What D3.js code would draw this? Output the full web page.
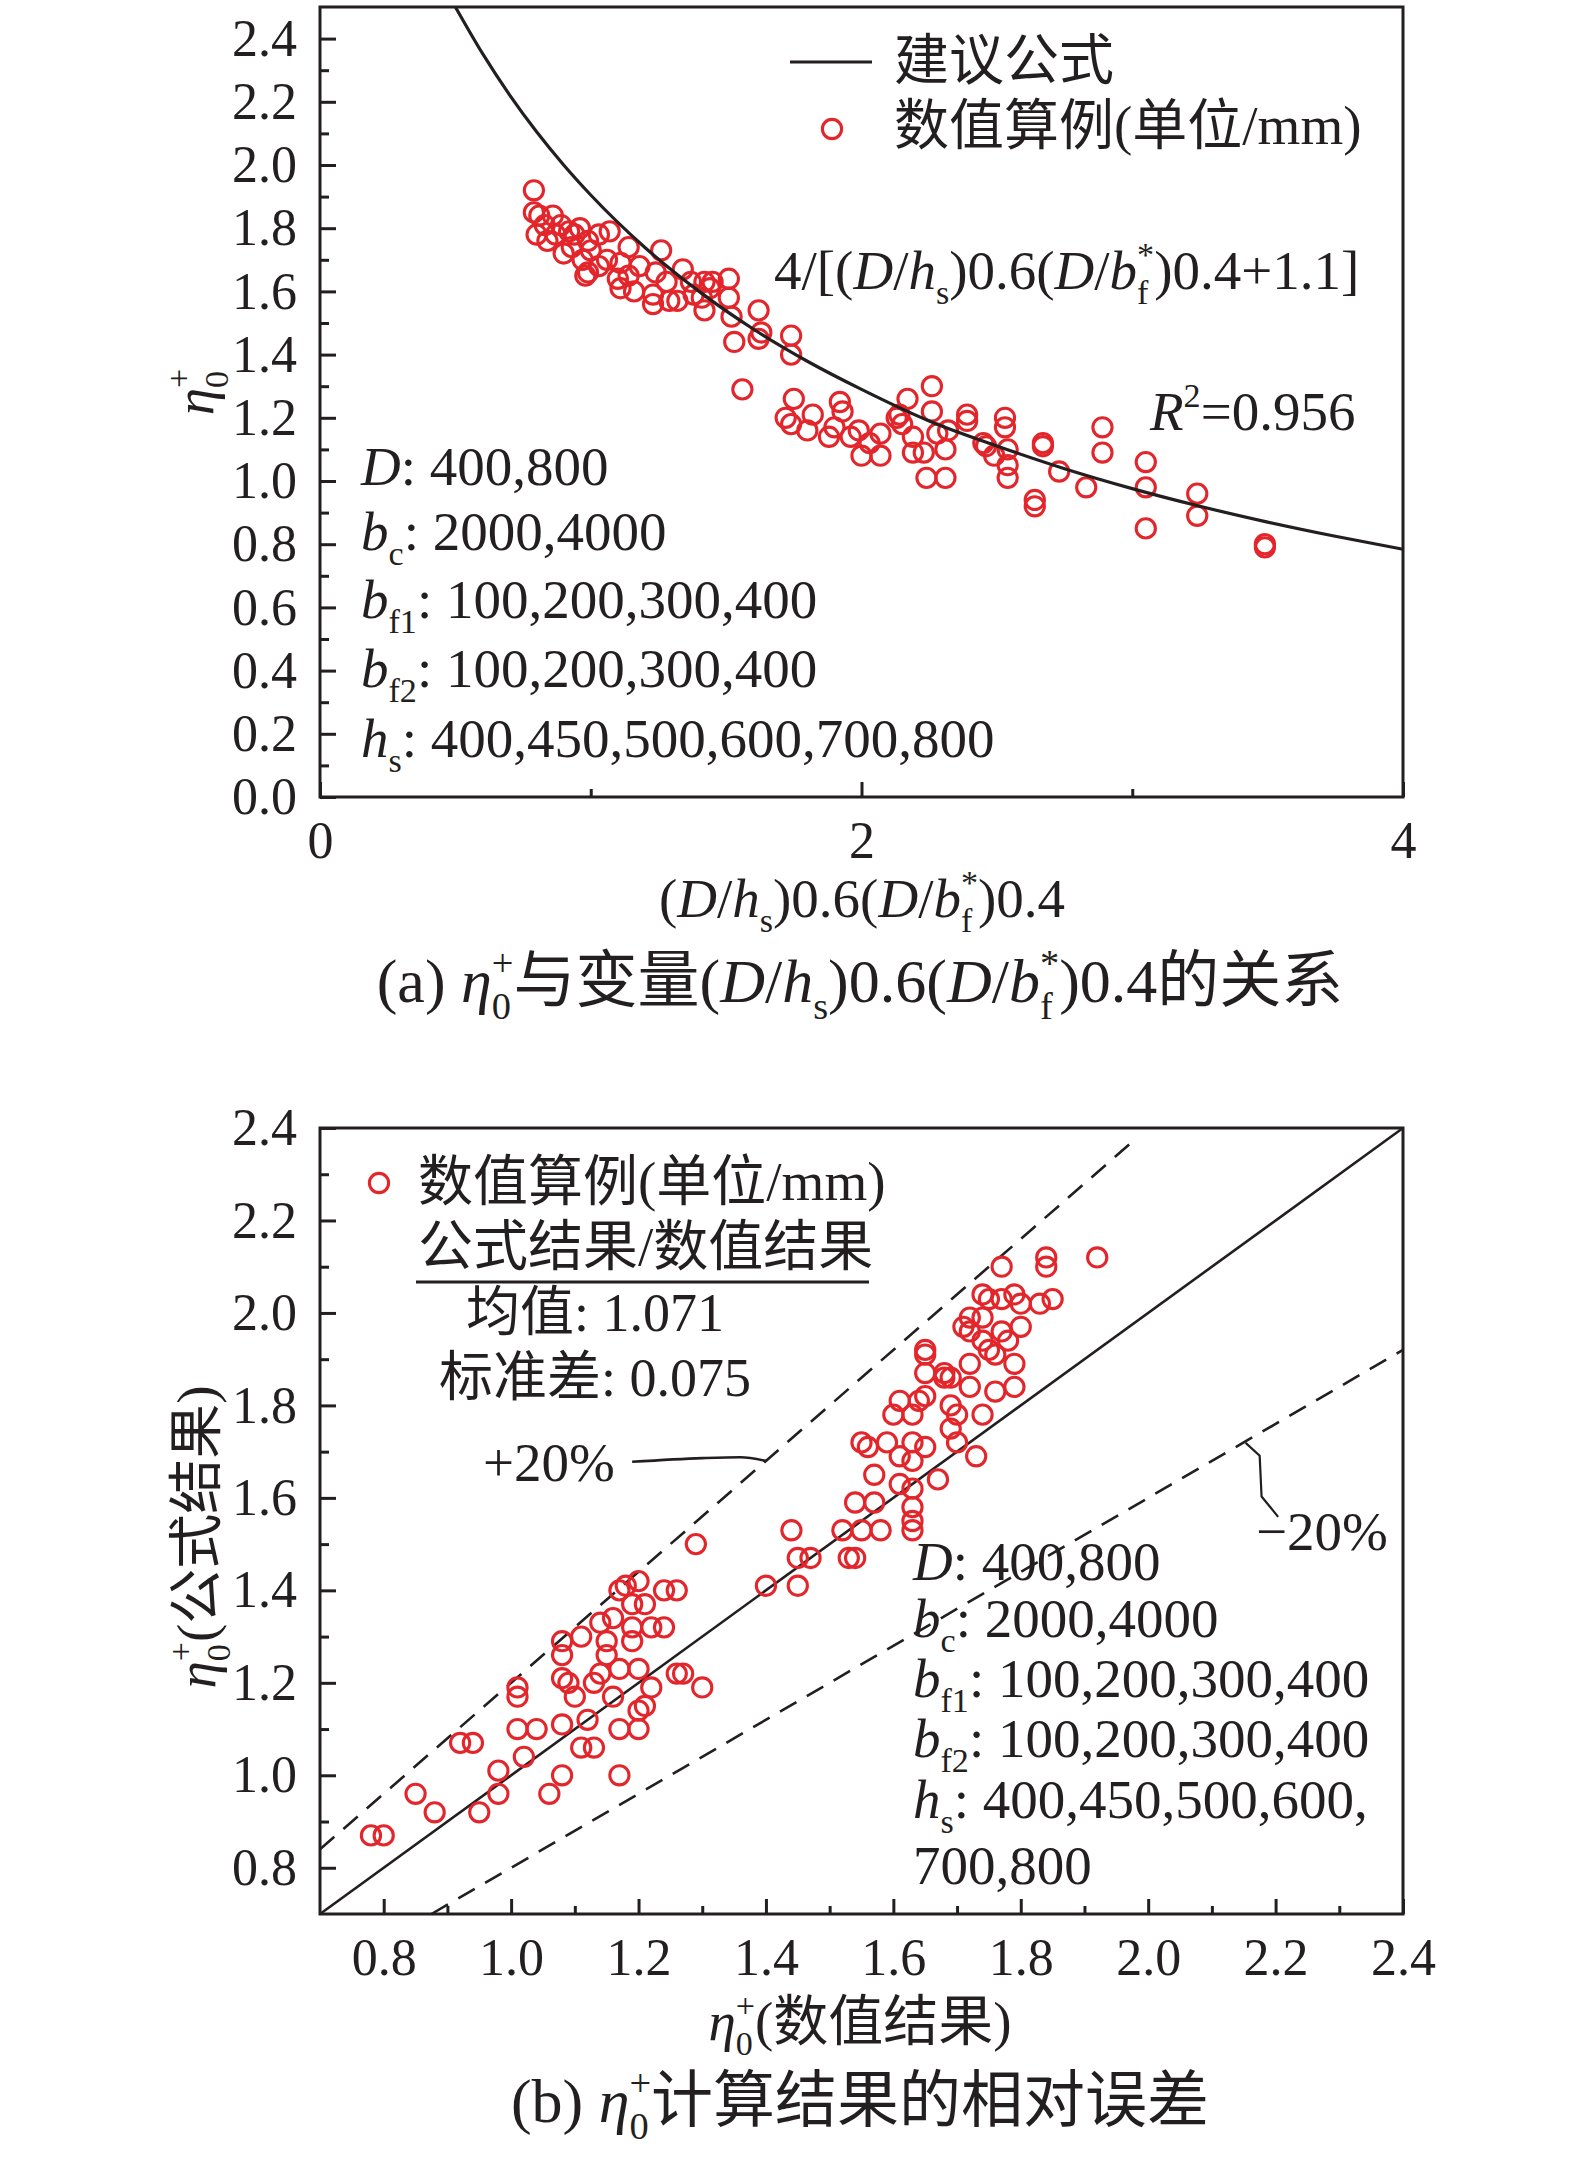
<!DOCTYPE html>
<html><head><meta charset="utf-8">
<script src="https://cdn.jsdelivr.net/npm/d3@7"></script>
<style>body{margin:0;background:#fff;} svg{display:block;background:#fff;}</style>
</head><body>
<svg id="c" width="1575" height="2162"></svg>
<script>
// ---------------- DATA ----------------
// (a) proposed formula curve 4/[x+1.1], read at these x positions
const curveX = [0.5,0.6,0.7,0.8,0.9,1.0,1.2,1.4,1.6,1.8,2.0,2.25,2.5,2.75,3.0,3.25,3.5,3.75,4.0];
const curveY = [2.5,2.353,2.222,2.105,2.0,1.905,1.739,1.6,1.481,1.379,1.290,1.190,1.111,1.039,0.976,0.920,0.870,0.825,0.784];
// (a) numerical examples
const aX = [0.79,0.79,0.80,0.81,0.86,0.87,0.89,0.90,0.94,0.96,
0.99,0.99,1.03,1.03,1.07,1.06,1.11,1.14,1.14,1.18,
1.23,1.23,1.24,1.26,1.32,1.34,1.37,1.42,1.42,1.41,
1.51,1.51,1.52,1.53,1.62,1.63,1.62,1.74,1.74,1.56,
1.72,1.75,1.74,1.82,1.88,1.92,1.93,1.96,1.99,2.00,
2.07,2.07,2.13,2.17,2.19,2.14,2.15,2.19,2.23,2.26,
2.26,2.24,2.31,2.31,2.32,2.28,2.39,2.39,2.45,2.46,
2.49,2.53,2.53,2.54,2.54,2.54,2.67,2.67,2.64,2.64,
2.73,2.83,2.89,2.89,3.05,3.05,3.05,3.24,3.24,3.49,
3.49,0.83,0.84,0.92,0.93,0.97,1.00,0.98,1.10,1.16,
1.28,1.29,1.38,1.11,1.45,1.44,1.80,1.90,2.03];
const aY = [1.92,1.85,1.78,1.84,1.84,1.78,1.81,1.72,1.78,1.80,
1.76,1.66,1.68,1.78,1.79,1.70,1.61,1.74,1.65,1.68,
1.59,1.56,1.66,1.73,1.57,1.67,1.63,1.63,1.54,1.58,
1.64,1.58,1.52,1.44,1.54,1.47,1.45,1.46,1.40,1.29,
1.20,1.26,1.18,1.21,1.14,1.25,1.22,1.14,1.16,1.08,
1.15,1.08,1.20,1.26,1.09,1.21,1.18,1.14,1.09,1.30,
1.22,1.01,1.01,1.10,1.16,1.15,1.21,1.19,1.12,1.11,
1.08,1.20,1.17,1.10,1.05,1.01,1.12,1.11,0.94,0.92,
1.03,0.98,1.17,1.09,1.06,0.98,0.85,0.96,0.89,0.80,
0.79,1.81,1.76,1.79,1.74,1.70,1.73,1.65,1.64,1.60,
1.63,1.57,1.59,1.69,1.63,1.61,1.16,1.17,1.12];
// (b) numerical result (x) vs formula result (y)
const bX = [0.78,0.80,0.85,0.88,0.95,0.92,0.94,0.98,0.98,1.02,
1.01,1.04,1.06,1.08,1.01,1.01,1.08,1.08,1.08,1.09,
1.08,1.10,1.11,1.11,1.13,1.12,1.13,1.14,1.16,1.14,
1.15,1.15,1.16,1.17,1.18,1.19,1.21,1.19,1.20,1.22,
1.24,1.24,1.26,1.17,1.20,1.20,1.21,1.22,1.20,1.17,
1.17,1.26,1.27,1.30,1.29,1.19,1.40,1.44,1.45,1.47,
1.45,1.52,1.53,1.54,1.55,1.58,1.54,1.57,1.57,1.55,
1.56,1.59,1.61,1.61,1.63,1.63,1.63,1.63,1.63,1.63,
1.65,1.67,1.61,1.60,1.63,1.64,1.65,1.69,1.69,1.70,
1.70,1.73,1.74,1.65,1.65,1.65,1.68,1.68,1.69,1.72,
1.72,1.72,1.71,1.72,1.74,1.74,1.75,1.76,1.76,1.77,
1.78,1.79,1.79,1.80,1.74,1.75,1.77,1.79,1.80,1.83,
1.85,1.77,1.84,1.84,1.92];
const bY = [0.87,0.87,0.96,0.92,0.92,1.07,1.07,1.01,0.96,1.04,
1.10,1.10,0.96,1.00,1.19,1.17,1.29,1.26,1.21,1.20,
1.11,1.17,1.30,1.06,1.06,1.12,1.20,1.33,1.34,1.22,
1.29,1.26,1.17,1.40,1.41,1.37,1.37,1.32,1.42,1.32,
1.32,1.40,1.40,1.23,1.23,1.14,1.15,1.19,1.10,1.10,
1.00,1.22,1.22,1.19,1.50,1.29,1.41,1.53,1.47,1.47,
1.41,1.53,1.47,1.47,1.53,1.53,1.59,1.59,1.65,1.72,
1.71,1.72,1.69,1.63,1.62,1.58,1.55,1.53,1.72,1.68,
1.71,1.64,1.81,1.78,1.78,1.81,1.82,1.80,1.75,1.78,
1.72,1.69,1.78,1.92,1.91,1.87,1.87,1.86,1.86,1.89,
1.84,1.99,1.97,1.96,1.94,1.99,1.92,1.91,1.83,1.96,
1.94,1.89,1.84,1.97,2.04,2.03,2.03,2.04,2.02,2.02,
2.03,2.10,2.12,2.10,2.12];
// (b) reference lines: 1:1, +20%, -20%
const lineEqual = [[0.7,0.7],[2.4,2.4]];
const linePlus20 = [[0.7,0.84],[1.98,2.376]];
const lineMinus20 = [[0.875,0.7],[2.4,1.92]];
const leaderPlus = [[1.19,1.678],[1.30,1.686],[1.36,1.688],[1.40,1.680]];
const leaderMinus = [[2.153,1.719],[2.175,1.691],[2.178,1.603],[2.204,1.559]];
// ticks
const aYTicks = [0,0.2,0.4,0.6,0.8,1.0,1.2,1.4,1.6,1.8,2.0,2.2,2.4];
const aYMinor = [0.1,0.3,0.5,0.7,0.9,1.1,1.3,1.5,1.7,1.9,2.1,2.3];
const aXTicks = [0,2,4];
const aXMinor = [1,3];
const bTicks = [0.8,1.0,1.2,1.4,1.6,1.8,2.0,2.2,2.4];
const bMinor = [0.9,1.1,1.3,1.5,1.7,1.9,2.1,2.3];

// ---------------- STYLE ----------------
const FONT = "'Liberation Serif','Noto Sans CJK SC',serif";
const INK = '#231f20';
const RED = '#e3262b';
const TICK_FS = 52, TXT_FS = 55, CAP_FS = 62;
const R = 9.6, SW = 3.1;

const svg = d3.select('#c');

function rich(parent, x, y, segs, opts) {
  const fs = opts.size || TXT_FS;
  const t = parent.append('text').attr('x', x).attr('y', y)
    .attr('font-family', FONT).attr('font-size', fs).attr('fill', INK)
    .attr('text-anchor', opts.anchor || 'start');
  if (opts.rotate) t.attr('transform', `rotate(${opts.rotate},${x},${y})`);
  let cur = 0, lastNode = null;
  for (const [txt, st] of segs) {
    const ts = t.append('tspan').text(txt);
    let target = 0, size = fs;
    if (st === 'sub' || st === 'isub') { target = 0.28 * fs; size = 0.62 * fs; }
    if (st === 'sup' || st === 'stk') { target = -0.42 * fs; size = 0.62 * fs; }
    if (st === 'i' || st === 'isub') ts.attr('font-style', 'italic');
    ts.attr('font-size', size);
    if (target !== cur) ts.attr('dy', target - cur);
    if (st === 'stk' && lastNode) ts.attr('dx', -lastNode.getComputedTextLength());
    cur = target; lastNode = ts.node();
  }
  return t;
}
const ETA = [['η', 'i'], ['0', 'sub'], ['+', 'stk']];

function styleAxis(g) {
  g.select('.domain').remove();
  g.selectAll('line').attr('stroke', INK).attr('stroke-width', 3);
  g.selectAll('text').attr('font-family', FONT).attr('font-size', TICK_FS).attr('fill', INK);
}

function panel(x, y, o) {
  const g = svg.append('g');
  const h = y.range()[0];
  g.append('g').attr('transform', `translate(${x.range()[0]},0)`)
    .call(d3.axisLeft(y).tickValues(o.yTicks).tickSize(-16).tickPadding(23).tickFormat(d3.format('.1f'))).call(styleAxis);
  g.append('g').attr('transform', `translate(${x.range()[0]},0)`)
    .call(d3.axisLeft(y).tickValues(o.yMinor).tickSize(-9).tickFormat('')).call(styleAxis);
  g.append('g').attr('transform', `translate(0,${h})`)
    .call(d3.axisBottom(x).tickValues(o.xTicks).tickSize(-15).tickPadding(24).tickFormat(o.xFmt)).call(styleAxis);
  g.append('g').attr('transform', `translate(0,${h})`)
    .call(d3.axisBottom(x).tickValues(o.xMinor).tickSize(-8).tickFormat('')).call(styleAxis);
  g.append('rect').attr('x', x.range()[0]).attr('y', y.range()[1])
    .attr('width', x.range()[1] - x.range()[0]).attr('height', y.range()[0] - y.range()[1])
    .attr('fill', 'none').attr('stroke', INK).attr('stroke-width', 3);
  return g;
}

function dots(g, x, y, xs, ys) {
  g.append('g').selectAll('circle').data(d3.zip(xs, ys)).join('circle')
    .attr('cx', d => x(d[0])).attr('cy', d => y(d[1])).attr('r', R)
    .attr('fill', 'none').attr('stroke', RED).attr('stroke-width', SW);
}

// ================= PANEL (a) =================
const xA = d3.scaleLinear().domain([0, 4]).range([320, 1403]);
const yA = d3.scaleLinear().domain([0, 2.5]).range([797, 7]);
const gA = panel(xA, yA, {yTicks: aYTicks, yMinor: aYMinor, xTicks: aXTicks, xMinor: aXMinor, xFmt: d3.format('d')});

dots(gA, xA, yA, aX, aY);
gA.append('path').datum(d3.zip(curveX, curveY))
  .attr('d', d3.line().x(d => xA(d[0])).y(d => yA(d[1])).curve(d3.curveMonotoneX))
  .attr('fill', 'none').attr('stroke', INK).attr('stroke-width', 3.2);

// legend (a)
gA.append('line').attr('x1', 790).attr('x2', 872).attr('y1', 62).attr('y2', 62).attr('stroke', INK).attr('stroke-width', 3);
rich(gA, 894, 79, [['建议公式', 'n']], {});
gA.append('circle').attr('cx', 832).attr('cy', 129).attr('r', R).attr('fill', 'none').attr('stroke', RED).attr('stroke-width', SW);
rich(gA, 894, 144, [['数值算例(单位/mm)', 'n']], {});

// formula & R2
rich(gA, 774, 289, [['4/[(', 'n'], ['D', 'i'], ['/', 'n'], ['h', 'i'], ['s', 'sub'], [')0.6(', 'n'], ['D', 'i'], ['/', 'n'], ['b', 'i'], ['f', 'sub'], ['*', 'stk'], [')0.4+1.1]', 'n']], {});
rich(gA, 1150, 430, [['R', 'i'], ['2', 'sup'], ['=0.956', 'n']], {});

// parameter block (a)
const paramA = [
  [['D', 'i'], [': 400,800', 'n']],
  [['b', 'i'], ['c', 'sub'], [': 2000,4000', 'n']],
  [['b', 'i'], ['f1', 'sub'], [': 100,200,300,400', 'n']],
  [['b', 'i'], ['f2', 'sub'], [': 100,200,300,400', 'n']],
  [['h', 'i'], ['s', 'sub'], [': 400,450,500,600,700,800', 'n']]
];
const paramAY = [485, 550, 618, 687, 757];
paramA.forEach((s, i) => rich(gA, 361, paramAY[i], s, {}));

// axis titles (a)
rich(gA, 213, 392, ETA, {anchor: 'middle', rotate: -90});
rich(gA, 862, 917, [['(', 'n'], ['D', 'i'], ['/', 'n'], ['h', 'i'], ['s', 'sub'], [')0.6(', 'n'], ['D', 'i'], ['/', 'n'], ['b', 'i'], ['f', 'sub'], ['*', 'stk'], [')0.4', 'n']], {anchor: 'middle'});
rich(gA, 860, 1002, [['(a) ', 'n'], ...ETA, ['与变量(', 'n'], ['D', 'i'], ['/', 'n'], ['h', 'i'], ['s', 'sub'], [')0.6(', 'n'], ['D', 'i'], ['/', 'n'], ['b', 'i'], ['f', 'sub'], ['*', 'stk'], [')0.4的关系', 'n']], {anchor: 'middle', size: CAP_FS});

// ================= PANEL (b) =================
const xB = d3.scaleLinear().domain([0.7, 2.4]).range([320, 1403]);
const yB = d3.scaleLinear().domain([0.7, 2.4]).range([1914, 1128]);
const gB = panel(xB, yB, {yTicks: bTicks, yMinor: bMinor, xTicks: bTicks, xMinor: bMinor, xFmt: d3.format('.1f')});

const ln = d3.line().x(d => xB(d[0])).y(d => yB(d[1]));
gB.append('path').datum(lineEqual).attr('d', ln).attr('fill', 'none').attr('stroke', INK).attr('stroke-width', 2.6);
gB.append('path').datum(linePlus20).attr('d', ln).attr('fill', 'none').attr('stroke', INK).attr('stroke-width', 2.6).attr('stroke-dasharray', '19,12');
gB.append('path').datum(lineMinus20).attr('d', ln).attr('fill', 'none').attr('stroke', INK).attr('stroke-width', 2.6).attr('stroke-dasharray', '19,12');
gB.append('path').datum(leaderPlus).attr('d', d3.line().x(d => xB(d[0])).y(d => yB(d[1])).curve(d3.curveMonotoneX)).attr('fill', 'none').attr('stroke', INK).attr('stroke-width', 2.6);
gB.append('path').datum(leaderMinus).attr('d', ln).attr('fill', 'none').attr('stroke', INK).attr('stroke-width', 2.2);

dots(gB, xB, yB, bX, bY);

// legend (b)
gB.append('circle').attr('cx', 379).attr('cy', 1183).attr('r', R).attr('fill', 'none').attr('stroke', RED).attr('stroke-width', SW);
rich(gB, 418, 1200, [['数值算例(单位/mm)', 'n']], {});
rich(gB, 418, 1265, [['公式结果/数值结果', 'n']], {});
gB.append('line').attr('x1', 416).attr('x2', 869).attr('y1', 1282).attr('y2', 1282).attr('stroke', INK).attr('stroke-width', 3);
rich(gB, 595, 1331, [['均值: 1.071', 'n']], {anchor: 'middle', size: 54});
rich(gB, 595, 1396, [['标准差: 0.075', 'n']], {anchor: 'middle', size: 54});
rich(gB, 483, 1481, [['+20%', 'n']], {});
rich(gB, 1256, 1550, [['\u221220%', 'n']], {});

// parameter block (b)
const paramB = [
  [['D', 'i'], [': 400,800', 'n']],
  [['b', 'i'], ['c', 'sub'], [': 2000,4000', 'n']],
  [['b', 'i'], ['f1', 'sub'], [': 100,200,300,400', 'n']],
  [['b', 'i'], ['f2', 'sub'], [': 100,200,300,400', 'n']],
  [['h', 'i'], ['s', 'sub'], [': 400,450,500,600,', 'n']],
  [['700,800', 'n']]
];
const paramBY = [1580, 1637, 1697, 1757, 1818, 1884];
paramB.forEach((s, i) => rich(gB, 913, paramBY[i], s, {}));

// axis titles (b)
rich(gB, 215, 1537, [...ETA, ['(公式结果)', 'n']], {anchor: 'middle', rotate: -90});
rich(gB, 860, 2040, [...ETA, ['(数值结果)', 'n']], {anchor: 'middle'});
rich(gB, 860, 2122, [['(b) ', 'n'], ...ETA, ['计算结果的相对误差', 'n']], {anchor: 'middle', size: CAP_FS});
</script>
</body></html>
